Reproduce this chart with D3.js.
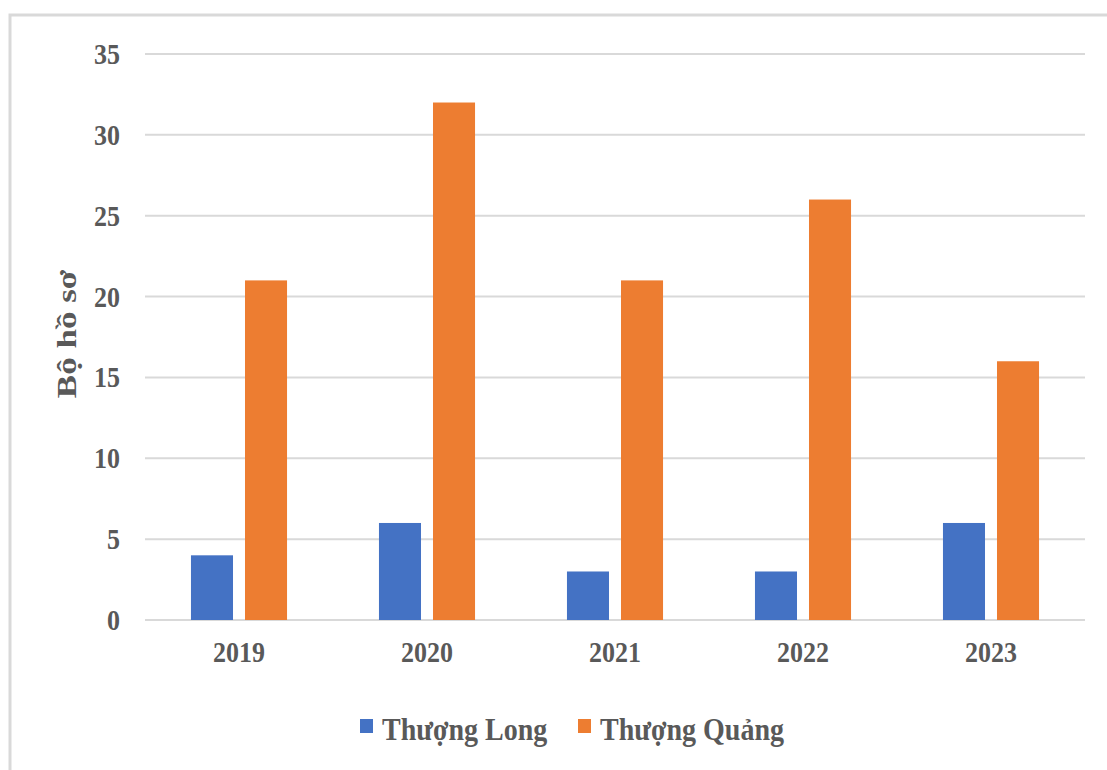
<!DOCTYPE html>
<html>
<head>
<meta charset="utf-8">
<script src="https://cdn.jsdelivr.net/npm/d3@7"></script>
<style>
  body { margin: 0; background: #fff; }
  svg text { font-family: 'Liberation Serif', 'Times New Roman', serif; font-weight: bold; fill: #595959; }
  svg text.tall { transform-box: fill-box; transform-origin: center; transform: scaleY(1.14); }
</style>
</head>
<body>
<div id="chart"></div>
<script>
// データ-----------------------------------------------------------------
const years = ['2019', '2020', '2021', '2022', '2023'];
const seriesNames = ['Thượng Long', 'Thượng Quảng'];
const thuongLong = [4, 6, 3, 3, 6];
const thuongQuang = [21, 32, 21, 26, 16];
const yTicks = [0, 5, 10, 15, 20, 25, 30, 35];
const colors = ['#4472C4', '#ED7D31'];

const width = 1107, height = 770;
const margin = { top: 54, bottom: 150, left: 145, right: 22 };

const svg = d3.select('#chart').append('svg')
  .attr('width', width)
  .attr('height', height);

// 外枠-------------------------------------------------------------------
svg.append('rect')
  .attr('x', 10).attr('y', 15)
  .attr('width', width + 20).attr('height', height + 20)
  .attr('fill', 'none')
  .attr('stroke', '#d9d9d9')
  .attr('stroke-width', 3);

// スケール---------------------------------------------------------------
const x0 = d3.scaleBand()
  .domain(years)
  .range([margin.left, width - margin.right])
  .paddingInner(0.489)
  .paddingOuter(0.2445);
const x1 = d3.scaleBand()
  .domain(seriesNames)
  .range([0, x0.bandwidth()])
  .paddingInner(0.222);
const y = d3.scaleLinear()
  .domain([0, 35])
  .range([height - margin.bottom, margin.top]);

// グリッド---------------------------------------------------------------
svg.append('g')
  .selectAll('line')
  .data(yTicks)
  .enter()
  .append('line')
  .attr('x1', margin.left)
  .attr('x2', width - margin.right)
  .attr('y1', d => y(d))
  .attr('y2', d => y(d))
  .attr('stroke', '#d9d9d9')
  .attr('stroke-width', 2);

// 縦軸ラベル-------------------------------------------------------------
const axisy = d3.axisLeft(y).tickValues(yTicks).tickSize(0).tickPadding(25);
const gY = svg.append('g')
  .attr('transform', 'translate(' + margin.left + ',0)')
  .call(axisy);
gY.select('.domain').remove();
gY.selectAll('text')
  .attr('class', 'tall')
  .attr('font-size', '26px')
  .attr('fill', '#595959')
  .attr('font-family', null);

// 棒---------------------------------------------------------------------
const rows = years.map((yr, i) => ({ year: yr, values: [thuongLong[i], thuongQuang[i]] }));
svg.append('g')
  .selectAll('g')
  .data(rows)
  .enter()
  .append('g')
  .attr('transform', d => 'translate(' + x0(d.year) + ',0)')
  .selectAll('rect')
  .data(d => d.values.map((v, j) => ({ name: seriesNames[j], value: v, color: colors[j] })))
  .enter()
  .append('rect')
  .attr('x', d => x1(d.name))
  .attr('width', x1.bandwidth())
  .attr('y', d => y(d.value))
  .attr('height', d => y(0) - y(d.value))
  .attr('fill', d => d.color);

// 横軸ラベル-------------------------------------------------------------
const axisx = d3.axisBottom(x0).tickSize(0).tickPadding(22);
const gX = svg.append('g')
  .attr('transform', 'translate(0,' + y(0) + ')')
  .call(axisx);
gX.select('.domain').remove();
gX.selectAll('text')
  .attr('class', 'tall')
  .attr('font-size', '26px')
  .attr('fill', '#595959')
  .attr('font-family', null);

// 縦軸タイトル-----------------------------------------------------------
svg.append('text')
  .attr('transform', 'translate(76,' + 334 + ') rotate(-90) scale(1.25,1)')
  .attr('text-anchor', 'middle')
  .attr('font-size', '28px')
  .text('Bộ hồ sơ');

// 凡例-------------------------------------------------------------------
const legendX = [360, 578];
const legend = svg.append('g')
  .selectAll('g')
  .data(seriesNames)
  .enter()
  .append('g')
  .attr('transform', (d, i) => 'translate(' + legendX[i] + ',719)');
legend.append('rect')
  .attr('width', 13).attr('height', 14)
  .attr('fill', (d, i) => colors[i]);
legend.append('text')
  .attr('class', 'tall')
  .attr('x', 22).attr('y', 20)
  .attr('font-size', '28px')
  .text(d => d);
</script>
</body>
</html>
